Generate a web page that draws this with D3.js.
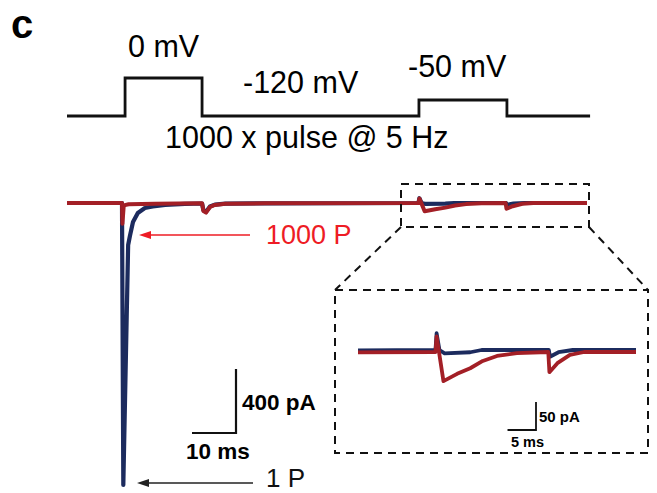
<!DOCTYPE html>
<html>
<head>
<meta charset="utf-8">
<script src="https://cdn.jsdelivr.net/npm/d3@7/dist/d3.min.js"></script>
<style>
  html, body { margin: 0; padding: 0; background: #fff; }
  svg { display: block; }
  text { font-family: "Liberation Sans", Arial, sans-serif; }
</style>
</head>
<body>
<svg id="chart" width="657" height="493"></svg>
<script>
// ---- Data (time in ms, current in pA, voltage in mV) ----
const protocolTimes = [0, 13.2, 13.2, 30.7, 30.7, 80, 80, 100, 100, 118.9];
const protocolVolts = [-120, -120, 0, 0, -120, -120, -50, -50, -120, -120];
const stepLabels = ["0 mV", "-120 mV", "-50 mV"];
const protocolTitle = "1000 x pulse @ 5 Hz";

// 1st pulse (1 P), blue
const blueTimes = [0, 12.5, 12.8, 13.9, 14.3, 15.0, 16.1, 17.7, 19.5, 22.3, 26.8, 30.7, 31.0, 31.6, 32.5, 33.6, 36, 45, 79.9, 80.1, 80.6, 81.5, 86, 88, 99.8, 100, 101.5, 104, 118.2];
const blueCurrent = [0, 0, -1760, -262, -206, -119, -62, -31, -22, -12, -6, -3, -45, -55, -22, -10, -4, -2, 0, 30, 0, -6, -4, 0, 0, -12, -4, 0, 0];

// 1000th pulse (1000 P), red
const redTimes = [0, 12.5, 12.6, 12.9, 14, 20, 30.7, 31.0, 31.6, 32.5, 33.6, 36, 45, 79.9, 80.1, 81.3, 83.7, 86, 88.2, 90.7, 94.2, 99.7, 99.9, 101.3, 103.5, 106, 118.2];
const redCurrent = [0, 0, -130, -15, -8, -4, -2, -50, -60, -25, -12, -5, -2, 0, 28, -52, -39, -29, -16, -7, -2, 0, -36, -20, -5, 0, 0];

const seriesNames = ["1 P", "1000 P"];
const scaleMain = { ms: 10, pA: 400 };
const scaleInset = { ms: 5, pA: 50 };
const insetWindow = [66.3, 115.1];

// ---- Setup ----
const svg = d3.select("#chart");
const blueColor = "#1c2b5e", redColor = "#a31f26", labelRed = "#ee1c25";

const x = d3.scaleLinear().domain([0, 118.2]).range([67, 587]);
const y = d3.scaleLinear().domain([0, -1760]).range([203, 485]);
const v = d3.scaleLinear().domain([-120, -50, 0]).range([116, 100, 78]);

const xi = d3.scaleLinear().domain(insetWindow).range([358, 636]);
const yi = d3.scaleLinear().domain([0, -50]).range([351, 379]);

const blue = blueTimes.map((t, i) => [t, blueCurrent[i]]);
const red = redTimes.map((t, i) => [t, redCurrent[i]]);
const prot = protocolTimes.map((t, i) => [t, protocolVolts[i]]);

// Panel letter
svg.append("text").attr("x", 11).attr("y", 38).attr("font-size", 40)
  .attr("font-weight", "bold").text("c");

// Protocol
svg.append("path").datum(prot)
  .attr("d", d3.line().x(d => x(d[0])).y(d => v(d[1])))
  .attr("fill", "none").attr("stroke", "#111").attr("stroke-width", 2.8);

svg.append("text").attr("x", 128).attr("y", 57).attr("font-size", 30.5).text(stepLabels[0]);
svg.append("text").attr("x", 243).attr("y", 93).attr("font-size", 30.5).text(stepLabels[1]);
svg.append("text").attr("x", 408).attr("y", 77).attr("font-size", 30.5).text(stepLabels[2]);
svg.append("text").attr("x", 165).attr("y", 148).attr("font-size", 30.5).text(protocolTitle);

// Main traces
const lineMain = d3.line().x(d => x(d[0])).y(d => y(d[1]));
svg.append("path").datum(blue).attr("d", lineMain)
  .attr("fill", "none").attr("stroke", blueColor).attr("stroke-width", 4.2).attr("stroke-linejoin", "round");
svg.append("path").datum(red).attr("d", lineMain)
  .attr("fill", "none").attr("stroke", redColor).attr("stroke-width", 4).attr("stroke-linejoin", "round");

// Arrows
function arrow(x1, x2, yy, color, w) {
  svg.append("line").attr("x1", x1).attr("x2", x2 + 10).attr("y1", yy).attr("y2", yy)
    .attr("stroke", color).attr("stroke-width", w);
  svg.append("path").attr("d", `M${x2},${yy} L${x2 + 12},${yy - 4} L${x2 + 12},${yy + 4} Z`).attr("fill", color);
}
arrow(250, 139, 235, labelRed, 1.3);
arrow(253, 137, 483, "#222", 1.3);

svg.append("text").attr("x", 266).attr("y", 244).attr("font-size", 27).attr("fill", labelRed).text(seriesNames[1]);
svg.append("text").attr("x", 266).attr("y", 487).attr("font-size", 26).attr("fill", "#111").text(seriesNames[0]);

// Main scale bar
const sbX = 236, sbY = 433;
const sbW = x(scaleMain.ms) - x(0), sbH = y(-scaleMain.pA) - y(0);
svg.append("path").attr("d", `M${sbX - sbW},${sbY} H${sbX} V${sbY - sbH}`)
  .attr("fill", "none").attr("stroke", "#111").attr("stroke-width", 2.2);
svg.append("text").attr("x", 242).attr("y", 410).attr("font-size", 22.5).attr("font-weight", "bold").text(scaleMain.pA + " pA");
svg.append("text").attr("x", 186).attr("y", 459).attr("font-size", 22.5).attr("font-weight", "bold").text(scaleMain.ms + " ms");

// Dashed zoom boxes
const dash = { stroke: "#111", "stroke-width": 2, fill: "none", "stroke-dasharray": "8,6" };
function applyDash(sel) { Object.entries(dash).forEach(([k, val]) => sel.attr(k, val)); return sel; }
const sx0 = 401, sx1 = 589, sy0 = 184, sy1 = 227;
applyDash(svg.append("rect").attr("x", sx0).attr("y", sy0).attr("width", sx1 - sx0).attr("height", sy1 - sy0));
const bx0 = 335, bx1 = 648, by0 = 290, by1 = 453;
applyDash(svg.append("rect").attr("x", bx0).attr("y", by0).attr("width", bx1 - bx0).attr("height", by1 - by0));
applyDash(svg.append("line").attr("x1", sx0).attr("y1", sy1).attr("x2", bx0).attr("y2", by0));
applyDash(svg.append("line").attr("x1", sx1).attr("y1", sy1).attr("x2", bx1).attr("y2", by0));

// Inset traces
const clip = svg.append("clipPath").attr("id", "insetClip");
clip.append("rect").attr("x", xi.range()[0]).attr("y", by0).attr("width", xi.range()[1] - xi.range()[0]).attr("height", by1 - by0);
const lineInset = d3.line().x(d => xi(d[0])).y(d => yi(d[1]));
const gi = svg.append("g").attr("clip-path", "url(#insetClip)");
gi.append("path").datum(blue).attr("d", lineInset)
  .attr("fill", "none").attr("stroke", blueColor).attr("stroke-width", 3.8).attr("stroke-linejoin", "round")
  .attr("transform", "translate(0,-1)");
gi.append("path").datum(red).attr("d", lineInset)
  .attr("fill", "none").attr("stroke", redColor).attr("stroke-width", 3.8).attr("stroke-linejoin", "round")
  .attr("transform", "translate(0,1)");

// Inset scale bar
const isX = 536, isY = 430;
const isW = xi(insetWindow[0] + scaleInset.ms) - xi(insetWindow[0]), isH = yi(-scaleInset.pA) - yi(0);
svg.append("path").attr("d", `M${isX - isW},${isY} H${isX} V${isY - isH}`)
  .attr("fill", "none").attr("stroke", "#111").attr("stroke-width", 1.8);
svg.append("text").attr("x", 539).attr("y", 422).attr("font-size", 15).attr("font-weight", "bold").text(scaleInset.pA + " pA");
svg.append("text").attr("x", 511).attr("y", 447).attr("font-size", 14.5).attr("font-weight", "bold").text(scaleInset.ms + " ms");
</script>
</body>
</html>
